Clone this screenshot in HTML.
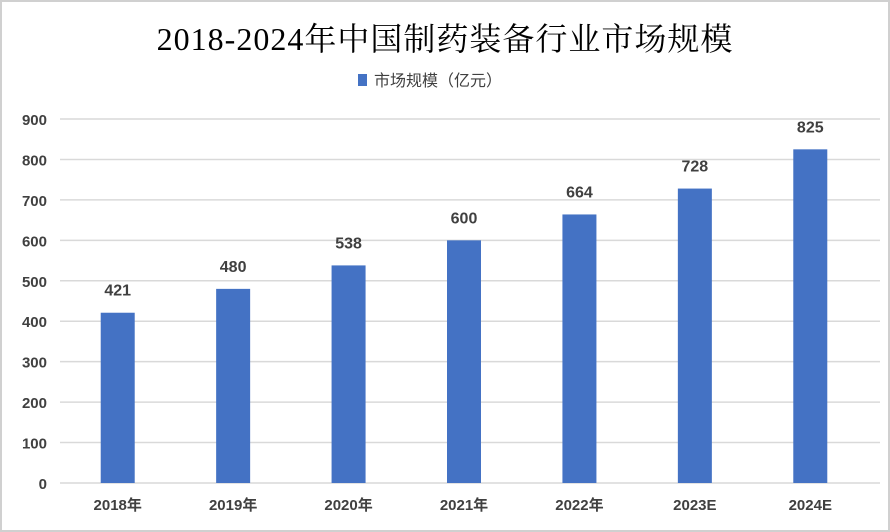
<!DOCTYPE html>
<html><head><meta charset="utf-8"><style>
html,body{margin:0;padding:0;background:#fff}
#wrap{position:relative;width:886px;height:528px;border:2px solid #d0d0d0;overflow:hidden;background:#fff}
text{font-family:"Liberation Sans","Noto Sans CJK SC",sans-serif}
</style></head><body>
<div id="wrap">
<svg id="chart" width="886" height="528">
<text x="443" y="48" text-anchor="middle" font-size="32" letter-spacing="1" style="font-family:'Liberation Serif','Noto Serif CJK SC',serif" fill="#000">2018-2024年中国制药装备行业市场规模</text>
<g>
<rect x="356" y="72" width="9" height="12" fill="#4472c4"></rect>
<text x="372" y="84" font-size="16" fill="#404040">市场规模（亿元）</text>
</g>
</svg>
</div>
<script>
const categories=["2018年","2019年","2020年","2021年","2022年","2023E","2024E"];
const values=[421,480,538,600,664,728,825];
const yTicks=[0,100,200,300,400,500,600,700,800,900];
const ns="http://www.w3.org/2000/svg";
const svg=document.getElementById('chart');
const x0=58,plotW=808,y0=481,yMax=900,plotH=364;
const band=plotW/categories.length,bw=34;
function y(v){return y0-v/yMax*plotH;}
function xc(i){return x0+band*(i+0.5);}
function mk(t,a){const e=document.createElementNS(ns,t);for(const k in a)e.setAttribute(k,a[k]);svg.appendChild(e);return e;}
yTicks.forEach(t=>{
const l=mk('line',{x1:x0,x2:x0+plotW+12,y1:y(t),y2:y(t),stroke:'#d9d9d9','stroke-width':1.5});


const tx=mk('text',{x:45,y:y(t)+6,'text-anchor':'end','font-size':15,'font-weight':'bold',fill:'#404040'});
tx.textContent=t;


});
categories.forEach((c,i)=>{
const b=mk('rect',{x:xc(i)-bw/2,y:y(values[i]),width:bw,height:y0-y(values[i]),fill:'#4472c4'});


const v=mk('text',{x:xc(i),y:y(values[i])-17,'text-anchor':'middle','font-size':16,'font-weight':'bold',fill:'#404040'});
v.textContent=values[i];


const t=mk('text',{x:xc(i),y:508,'text-anchor':'middle','font-size':15,'font-weight':'bold',fill:'#404040'});
t.textContent=c;


});
</script>
</body></html>
